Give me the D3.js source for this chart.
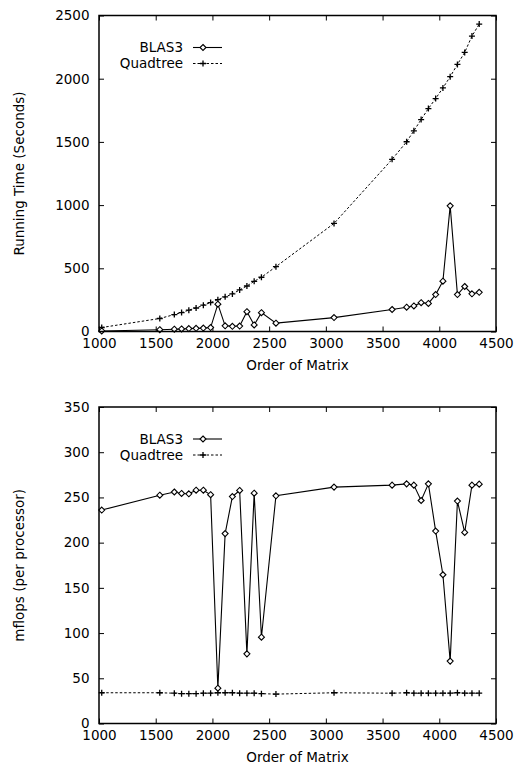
<!DOCTYPE html>
<html lang="en">
<head>
<meta charset="UTF-8">
<title>BLAS3 vs Quadtree</title>
<style type="text/css">
	body { margin: 0; background: #fff; }
	svg text { font-family: "DejaVu Sans", sans-serif; font-size: 13.5px; fill: #000; }
	.frame { fill: none; stroke: #000; stroke-width: 1.5px; }
	.axis path { display: none; }
	.axis line { stroke: #000; stroke-width: 1px; }
	.blas { fill: none; stroke: #000; stroke-width: 1.1px; }
	.quad { fill: none; stroke: #000; stroke-width: 1px; stroke-dasharray: 2.5,2; }
	.dmd { fill: #fff; stroke: #000; stroke-width: 1.1px; }
	.pls { stroke: #000; stroke-width: 1.3px; }
</style>
</head>
<body>
<svg id="graph" width="526" height="766"></svg>

<script src="https://d3js.org/d3.v7.min.js"></script>
<script>
	"use strict";

	// order of matrix
	var orders = [1024,1536,1664,1728,1792,1856,1920,1984,2048,2112,2176,2240,2304,2368,2432,2560,
		3072,3584,3712,3776,3840,3904,3968,4032,4096,4160,4224,4288,4352];

	// running time (seconds)
	var blasTime = [4.5,14,18,20,23,25,27,31,216,45,41,43,157,52,149,66,
		110,174,192,202,228,222,292,398,994,292,356,298,310];
	var quadTime = [31.5,103,134,150,169,186,208,229,252,274,297,329,360,397,429,513,
		855,1362,1501,1588,1677,1764,1843,1927,2016,2113,2208,2337,2432];

	// mflops (per processor)
	var blasMflops = [236,252.5,256,254.4,254,258,258,253,39,210,251,257.7,77,254.7,95.4,251.8,
		261.4,263.6,265,263.6,246.6,265,212.8,164.5,69,246,211.3,263.6,264.7];
	var quadMflops = [34,34,33.5,33,33,33,33.5,33.5,34,34,34,33.5,33.5,33.5,33,32.5,
		34,33.5,34,33.5,33.5,33.5,33.5,33.5,33.5,34,33.5,33.5,33.5];

	var xTicks = [1000,1500,2000,2500,3000,3500,4000,4500];
	var timeTicks = [0,500,1000,1500,2000,2500];
	var mflopsTicks = [0,50,100,150,200,250,300,350];
	var seriesNames = ["BLAS3","Quadtree"];
	var xTitle = "Order of Matrix";

	var svg = d3.select("#graph");
	var left = 99, right = 496;

	var x = d3.scaleLinear().domain([1000,4500]).range([left,right]);

	function diamond(g, px, py){
		g.append("path").attr("class","dmd")
		  .attr("d","M"+px+","+(py-3)+"L"+(px+3)+","+py+"L"+px+","+(py+3)+"L"+(px-3)+","+py+"Z");
	}
	function plus(g, px, py){
		g.append("path").attr("class","pls")
		  .attr("d","M"+(px-3)+","+py+"H"+(px+3)+"M"+px+","+(py-3)+"V"+(py+3));
	}

	function drawChart(top, bottom, yMax, yTicks, yTitle, blas, quad){
		var g = svg.append("g");
		var y = d3.scaleLinear().domain([0,yMax]).range([bottom,top]);

		g.append("g").attr("class","axis")
		  .attr("transform","translate(0,"+bottom+")")
		  .call(d3.axisBottom(x).tickValues(xTicks).tickSize(-5).tickPadding(6.5).tickFormat(d3.format("d")));
		g.append("g").attr("class","axis")
		  .attr("transform","translate(0,"+top+")")
		  .call(d3.axisTop(x).tickValues(xTicks).tickSize(-5).tickFormat(""));
		g.append("g").attr("class","axis")
		  .attr("transform","translate("+left+",0)")
		  .call(d3.axisLeft(y).tickValues(yTicks).tickSize(-5).tickPadding(9.5).tickFormat(d3.format("d")));
		g.append("g").attr("class","axis")
		  .attr("transform","translate("+right+",0)")
		  .call(d3.axisRight(y).tickValues(yTicks).tickSize(-5).tickFormat(""));
		g.selectAll(".axis text").style("font-family","\"DejaVu Sans\", sans-serif").style("font-size","13.5px");

		var line = d3.line().x(function(d,i){return x(orders[i]);}).y(function(d){return y(d);});
		g.append("path").datum(quad).attr("class","quad").attr("d",line);
		g.append("path").datum(blas).attr("class","blas").attr("d",line);

		quad.forEach(function(d,i){ plus(g, x(orders[i]), y(d)); });
		blas.forEach(function(d,i){ diamond(g, x(orders[i]), y(d)); });

		g.append("rect").attr("class","frame")
		  .attr("x",left).attr("y",top).attr("width",right-left).attr("height",bottom-top);

		// legend
		var ly = top + 32;
		g.append("text").attr("x",183).attr("y",ly+4.5).attr("text-anchor","end").text(seriesNames[0]);
		g.append("line").attr("class","blas").attr("x1",193).attr("x2",222).attr("y1",ly).attr("y2",ly);
		diamond(g, 203, ly);
		g.append("text").attr("x",183).attr("y",ly+20.5).attr("text-anchor","end").text(seriesNames[1]);
		g.append("line").attr("class","quad").attr("x1",193).attr("x2",222).attr("y1",ly+16).attr("y2",ly+16);
		plus(g, 203, ly+16);

		g.append("text").attr("x",(left+right)/2).attr("y",bottom+38).attr("text-anchor","middle").text(xTitle);
		g.append("text").attr("text-anchor","middle")
		  .attr("transform","translate(24,"+((top+bottom)/2)+") rotate(-90)")
		  .text(yTitle);
	}

	drawChart(15.5, 331.5, 2500, timeTicks, "Running Time (Seconds)", blasTime, quadTime);
	drawChart(407, 723.5, 350, mflopsTicks, "mflops (per processor)", blasMflops, quadMflops);
</script>
</body>
</html>
